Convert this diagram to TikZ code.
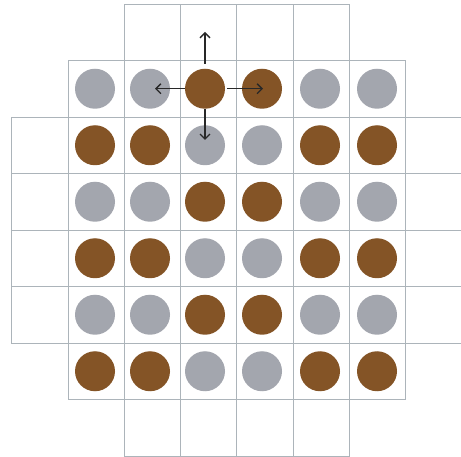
\documentclass[tikz,border=0pt]{standalone}
\usetikzlibrary{arrows.meta}
\definecolor{dotbrown}{RGB}{132,84,38}
\definecolor{dotgray}{RGB}{163,166,174}
\definecolor{gridc}{RGB}{172,180,186}
\definecolor{arrc}{RGB}{40,40,40}
\begin{document}
\begin{tikzpicture}[x=1pt,y=-1pt,
  cellbox/.style={draw=gridc,line width=0.6pt},
  dot/.style={circle,inner sep=0pt,minimum size=40pt,draw=none},
  arr/.style={draw=arrc,line width=1.4pt,-{Straight Barb[length=5pt,width=10pt,line width=1.4pt]}}]
\useasboundingbox (0,0) rectangle (461,457);
\begin{scope}
\clip (0,0) rectangle (461,457);
% row 0 and row 7: columns 2-5
\foreach \r in {0,7}{
  \foreach \c in {2,...,5}{
    \draw[cellbox] ({11.5+56.3*\c},{4+56.5*\r}) rectangle ++(56.3,56.5);
  }
}
% rows 1 and 6: columns 1-6
\foreach \r in {1,6}{
  \foreach \c in {1,...,6}{
    \draw[cellbox] ({11.5+56.3*\c},{4+56.5*\r}) rectangle ++(56.3,56.5);
  }
}
% rows 2-5: columns 0-7
\foreach \r in {2,...,5}{
  \foreach \c in {0,...,7}{
    \draw[cellbox] ({11.5+56.3*\c},{4+56.5*\r}) rectangle ++(56.3,56.5);
  }
}
\end{scope}
% dots
\foreach \r in {1,...,6}{
  \foreach \c/\x in {1/95,2/150,3/205,4/262,5/320,6/377}{
    \pgfmathtruncatemacro\b{mod(\r+int((\c-1)/2),2)}
    \ifnum\b=0 \def\dc{dotbrown}\else\def\dc{dotgray}\fi
    \node[dot,fill=\dc] (d\r\c) at (\x,{4+56.5*(\r+0.5)}) {};
  }
}
% arrows
\coordinate (up) at (205,32);
\coordinate (lt) at (155,88.75);
\coordinate (rt) at (263,88.75);
\coordinate (dn) at (205,140);
\draw[arr,shorten <=5pt] (d13.north) -- (up);
\draw[arr] (d13.west) -- (lt);
\draw[arr,shorten <=2pt] (d13.east) -- (rt);
\draw[arr] (d13.south) -- (dn);
\end{tikzpicture}
\end{document}
